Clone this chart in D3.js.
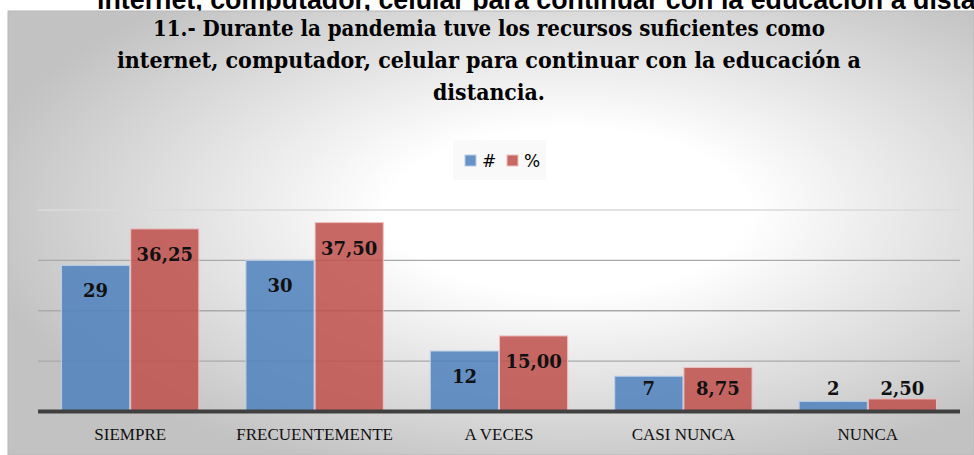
<!DOCTYPE html>
<html>
<head>
<meta charset="utf-8">
<script src="https://cdn.jsdelivr.net/npm/d3@7"></script>
<style>
  body { margin: 0; background: #fff; }
  svg { display: block; }
</style>
</head>
<body>
<div class="chart"></div>
<script>
const categories = ["SIEMPRE", "FRECUENTEMENTE", "A VECES", "CASI NUNCA", "NUNCA"];
const series = ["#", "%"];
const counts = [29, 30, 12, 7, 2];
const percents = [36.25, 37.5, 15, 8.75, 2.5];
const yTicks = [0, 10, 20, 30, 40];
const titleLines = [
    "11.- Durante la pandemia tuve los recursos suficientes como",
    "internet, computador, celular para continuar con la educación a",
    "distancia."
];
const titleWidths = [672, 744, 112];

const W = 974, H = 455;
const margin = ({top: 210, right: 14, bottom: 43, left: 38});
const width = W - margin.left - margin.right;
const height = 411.5 - margin.top;

const svg = d3.select('.chart').append('svg')
    .attr("width", W)
    .attr("height", H);

// background gradient
const defs = svg.append("defs");
const grad = defs.append("radialGradient")
    .attr("id", "bg")
    .attr("cx", "0.58").attr("cy", "0.45")
    .attr("r", "0.62");
grad.append("stop").attr("offset", "0%").attr("stop-color", "#ffffff");
grad.append("stop").attr("offset", "30%").attr("stop-color", "#ffffff");
grad.append("stop").attr("offset", "100%").attr("stop-color", "#c2c2c2");

// cut-off text from previous page
svg.append("text")
    .attr("x", 97)
    .attr("y", 9)
    .attr("font-family", "'Liberation Sans', Arial, sans-serif")
    .attr("font-weight", "bold")
    .attr("font-size", "26.8px")
    .attr("fill", "#000")
    .text("internet, computador, celular para continuar con la educación a distancia.");

svg.append("rect")
    .attr("x", 8).attr("y", 11)
    .attr("width", W - 8).attr("height", H - 11)
    .attr("fill", "url(#bg)")
    .attr("stroke", "#b8b8b8")
    .attr("stroke-width", 1);

// title
svg.append("g").selectAll("text")
    .data(titleLines)
    .join("text")
    .attr("x", 489)
    .attr("y", (d, i) => 36 + i * 32)
    .attr("text-anchor", "middle")
    .attr("font-family", "'DejaVu Serif', serif")
    .attr("font-weight", "bold")
    .attr("font-size", "23px")
    .attr("textLength", (d, i) => titleWidths[i])
    .attr("lengthAdjust", "spacingAndGlyphs")
    .attr("fill", "#000")
    .text(d => d);

const plot = svg.append("g")
    .attr("transform", "translate(" + margin.left + "," + margin.top + ")");

const xScale = d3.scaleBand()
    .domain(categories)
    .range([0, width])
    .paddingInner(0.25)
    .paddingOuter(0.125);

const xSub = d3.scaleBand()
    .domain(series)
    .range([0, xScale.bandwidth()]);

const yScale = d3.scaleLinear()
    .domain([0, 40])
    .range([height, 0]);

const color = d3.scaleOrdinal()
    .domain(series)
    .range(["#4F81BD", "#C0504D"]);

const stroke = d3.scaleOrdinal()
    .domain(series)
    .range(["#b9cde6", "#ecc2c1"]);

// gridlines
plot.append("g")
    .attr("class", "grid")
    .selectAll("line")
    .data(yTicks.slice(1))
    .join("line")
    .attr("x1", 0)
    .attr("x2", width)
    .attr("y1", d => yScale(d))
    .attr("y2", d => yScale(d))
    .attr("stroke", (d, i) => i === yTicks.length - 2 ? "#dadada" : "#a9a9a9")
    .attr("stroke-width", 1.3);

const rows = categories.map((c, i) => ({cat: c, vals: [
    {key: "#", value: counts[i], label: String(counts[i])},
    {key: "%", value: percents[i], label: d3.format(".2f")(percents[i]).replace(".", ",")}
]}));

const groups = plot.selectAll("g.cat")
    .data(rows)
    .join("g")
    .attr("class", "cat")
    .attr("transform", d => `translate(${xScale(d.cat)},0)`);

groups.selectAll("rect")
    .data(d => d.vals)
    .join("rect")
    .attr("x", d => xSub(d.key) + 0.5)
    .attr("y", d => yScale(d.value))
    .attr("width", xSub.bandwidth() - 1)
    .attr("height", d => height - yScale(d.value))
    .attr("fill", d => color(d.key))
    .attr("fill-opacity", 0.86)
    .attr("stroke", d => stroke(d.key))
    .attr("stroke-width", 1);

// data labels (inside end, kept clear of the axis)
groups.selectAll("text")
    .data(d => d.vals)
    .join("text")
    .attr("x", d => xSub(d.key) + xSub.bandwidth() / 2)
    .attr("y", d => Math.min(yScale(d.value) + 25, height - 23.5) + 7)
    .attr("text-anchor", "middle")
    .attr("font-family", "'DejaVu Serif', 'Liberation Serif', serif")
    .attr("font-weight", "bold")
    .attr("font-size", "18px")
    .attr("fill", "#111")
    .text(d => d.label);

// x axis
const xAxis = d3.axisBottom(xScale).tickSize(0).tickPadding(16);
const gx = plot.append("g")
    .attr("class", "axis x-axis")
    .attr("transform", `translate(0, ${height})`)
    .call(xAxis);
gx.select(".domain")
    .attr("stroke", "#404040")
    .attr("stroke-width", 4)
    .attr("d", `M0,0H${width}`);
gx.selectAll("text")
    .attr("font-family", "'Liberation Serif', 'Times New Roman', serif")
    .attr("font-size", "17px")
    .attr("fill", "#111");

// legend
const legend = svg.append("g").attr("transform", "translate(453,140)");
legend.append("rect")
    .attr("width", 93).attr("height", 40)
    .attr("fill", "#f7f7f7").attr("fill-opacity", 0.8);
const items = legend.selectAll("g.item")
    .data(series)
    .join("g")
    .attr("class", "item")
    .attr("transform", (d, i) => `translate(${12 + i * 42},0)`);
items.append("rect")
    .attr("y", 15).attr("width", 11).attr("height", 11)
    .attr("fill", d => color(d)).attr("fill-opacity", 0.86)
    .attr("stroke", d => stroke(d));
items.append("text")
    .attr("x", 17).attr("y", 27)
    .attr("font-family", "'DejaVu Sans', sans-serif")
    .attr("font-size", "17px")
    .attr("fill", "#000")
    .text(d => d);
</script>
</body>
</html>
